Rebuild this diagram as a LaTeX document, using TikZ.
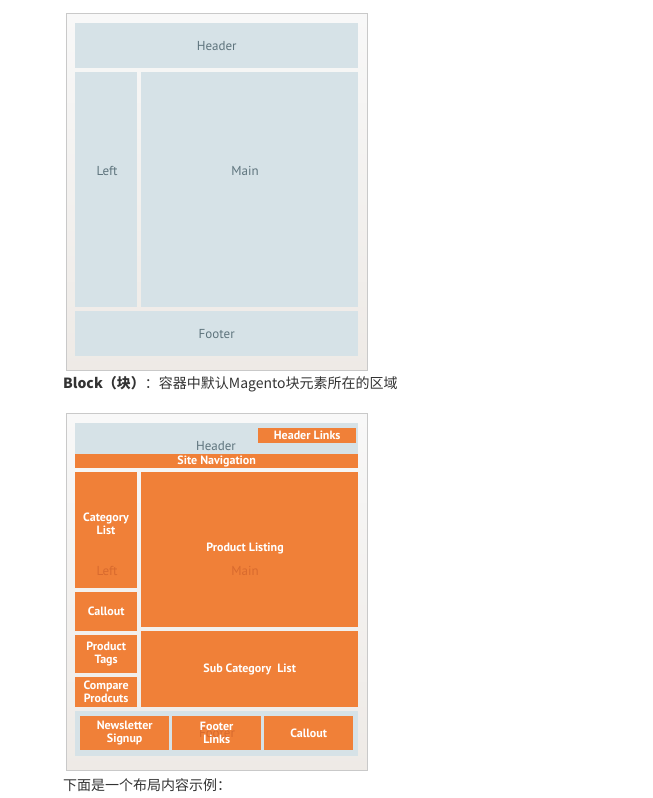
\documentclass[tikz,border=0pt]{standalone}
\usepackage{fontspec}
\setmainfont{PT Sans}
\newfontfamily\cjk{Noto Sans CJK SC}
\usepackage{tikz}
\usetikzlibrary{positioning}
\definecolor{mgorange}{HTML}{F08038}
\definecolor{mgblue}{HTML}{D6E2E7}
\definecolor{mgtext}{HTML}{5E747D}
\definecolor{mgghost}{HTML}{D86A2E}
\definecolor{mgframe}{HTML}{C9C9C9}
\definecolor{mgfade}{HTML}{EEEAE6}
\definecolor{mgtop}{HTML}{F8F8F8}
\definecolor{mgink}{HTML}{333333}

\begin{document}
\begin{tikzpicture}[
  x=1pt, y=-1pt,
  sz/.style 2 args={minimum width=#1pt, minimum height=#2pt},
  frame/.style={draw=mgframe, line width=0.8pt, top color=mgtop,
    middle color=mgtop, bottom color=mgfade, inner sep=0pt, anchor=north west},
  zone/.style={fill=mgblue, text=mgtext, inner sep=0pt, anchor=north west,
    font=\fontsize{13}{14}\selectfont},
  zonetext/.style={text=mgtext, inner sep=0pt, font=\fontsize{13}{14}\selectfont},
  block/.style={fill=mgorange, text=white, inner sep=0pt, anchor=north west,
    align=center, font=\bfseries\fontsize{12}{13}\selectfont},
  tag/.style={text=white, align=center, inner sep=0pt,
    font=\bfseries\fontsize{12}{13}\selectfont},
  ghost/.style={text=mgghost, inner sep=0pt, font=\fontsize{13}{14}\selectfont},
  caption/.style={text=mgink, anchor=west, inner sep=0pt,
    font=\cjk\fontsize{14}{16}\selectfont}
]
\useasboundingbox (0,0) rectangle (653,798);

%% ── BLOCK LAYOUT ────────────────────────────────────────────────
\node[frame, sz={301}{357}] (frameA) at (66,13) {};
\node[zone, sz={283}{45}] (headA) at (75,23) {Header};
\node[zone, sz={62}{235}] (leftA) at (75,72) {};
\node[zone, sz={217}{235}] (mainA) at (141,72) {};
\node[zonetext] (leftAlbl) at (107,171) {Left};
\node[zonetext] (mainAlbl) at (245,171) {Main};
\node[zone, sz={283}{45}] (footA) at (75,311) {Footer};
\node[caption] (capA) at (63,384)
  {{\bfseries Block（块）}：容器中默认Magento块元素所在的区域};

%% ── CONTENT LAYOUT ──────────────────────────────────────────────
\node[frame, sz={301}{357}] (frameB) at (66,413) {};

%% header band
\node[zone, sz={283}{31}] (headB) at (75,423) {};
\node[zonetext] (headlbl) at (216,446) {Header};
\node[block, sz={98}{15}] (hlinks) at (258,428) {Header Links};
\node[block, sz={283}{14}] (sitenav) at (75,454) {Site Navigation};

%% left column
\node[block, sz={62}{116}] (catlist) at (75,472) {};
\node[ghost] (leftlbl) at (107,571) {Left};
\node[tag] (catlbl) at (106,524) {Category\\List};
\node[block, sz={62}{39}] (callleft) at (75,592) {Callout};
\node[block, sz={62}{38}] (prodtags) at (75,635) {Product\\Tags};
\node[block, sz={62}{30}] (compare) at (75,677) {Compare\\Prodcuts};

%% main column
\node[block, sz={217}{155}] (prodlist) at (141,472) {};
\node[ghost] (mainlbl) at (245,571) {Main};
\node[tag] (prodlbl) at (245,548) {Product Listing};
\node[block, sz={217}{76}] (subcat) at (141,631) {Sub Category\ \ List};

%% footer band
\node[zone, sz={283}{45}] (footB) at (75,711) {};
\node[block, sz={89}{34}] (newsletter) at (80,716) {Newsletter\\Signup};
\node[block, sz={89}{34}] (footlinks) at (172,716) {};
\node[ghost] (footlbl) at (217,733) {Footer};
\node[tag] (flinklbl) at (footlinks.center) {Footer\\Links};
\node[block, sz={89}{34}] (callfoot) at (264,716) {Callout};

\node[caption] (capB) at (63,785) {下面是一个布局内容示例：};

\end{tikzpicture}
\end{document}
